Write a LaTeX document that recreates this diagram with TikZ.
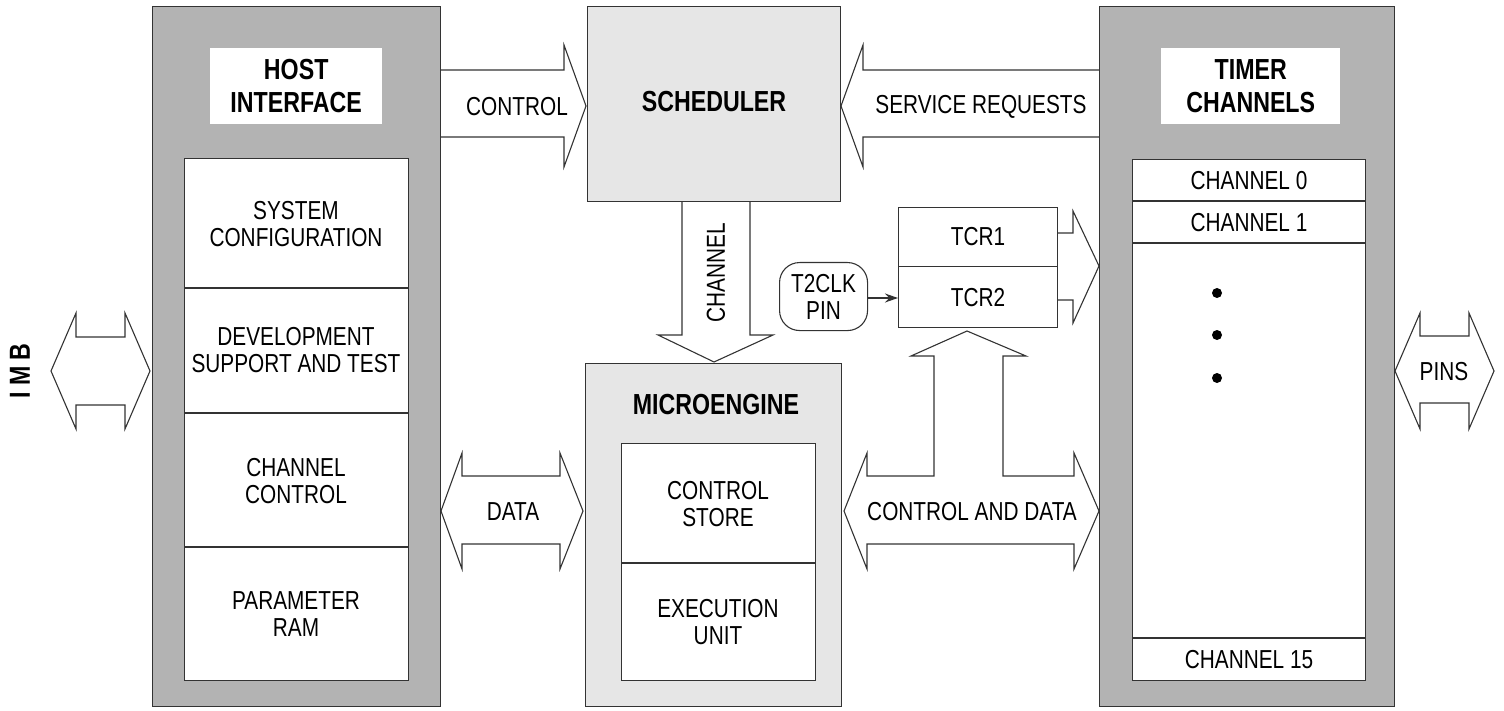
\documentclass[tikz,border=0pt]{standalone}
\usepackage{fontspec}
\setmainfont{Liberation Sans}[FakeStretch=0.8]
\newfontfamily\hdrfont{Liberation Sans Bold}[FakeStretch=0.8]
\usetikzlibrary{arrows.meta,calc}
\definecolor{panelgray}{HTML}{B3B3B3}
\definecolor{lightpanel}{HTML}{E6E6E6}
\definecolor{linegray}{HTML}{333333}
\tikzset{
  box/.style={draw=linegray,line width=1.1pt},
  lbl/.style={font=\fontsize{26}{27}\selectfont,align=center,text=black,inner sep=0pt},
  hdr/.style={font=\hdrfont\fontsize{29}{33}\selectfont,align=center,text=black,inner sep=0pt},
  barrow/.style={draw=linegray,line width=1.1pt,fill=white,line join=miter},
}
\begin{document}
\begin{tikzpicture}[x=1pt,y=-1pt]
\useasboundingbox (0,0) rectangle (1504,711);
% ---------- BLOCK ARROWS (drawn first, boxes on top) ----------
% CONTROL
\draw[barrow] (440,70) -- (564,70) -- (564,45) -- (586,106) -- (564,167) -- (564,137) -- (440,137);
% SERVICE REQUESTS
\draw[barrow] (1099,70) -- (863,70) -- (863,45) -- (841,106) -- (863,167) -- (863,137) -- (1099,137);
% CHANNEL
\draw[barrow] (682,201) -- (682,335) -- (658,335) -- (714,362) -- (773,335) -- (750,335) -- (750,201);
% TCR -> timer
\draw[barrow] (1057,233) -- (1073,233) -- (1073,211) -- (1099,266) -- (1073,323) -- (1073,300) -- (1057,300);
% ---------- HOST INTERFACE ----------
\node[box,fill=panelgray,minimum width=288pt,minimum height=700pt,anchor=north west,inner sep=0pt] (host) at (152,6) {};
\node[fill=white,minimum width=172pt,minimum height=76pt,anchor=north west,inner sep=0pt] (hosthead) at (210,48) {};
\node[hdr] at (hosthead.center) {HOST\\INTERFACE};
\node[box,fill=white,minimum width=224pt,minimum height=522pt,anchor=north west,inner sep=0pt] (hostin) at (184,158) {};
\draw[box] (184,288) -- (408,288);
\draw[box] (184,413) -- (408,413);
\draw[box] (184,547) -- (408,547);
\node[lbl] (sysconf) at (296,224) {SYSTEM\\CONFIGURATION};
\node[lbl] (devsup) at (296,350) {DEVELOPMENT\\SUPPORT AND TEST};
\node[lbl] (chctl) at (296,481) {CHANNEL\\CONTROL};
\node[lbl] (pram) at (296,614) {PARAMETER\\RAM};
% ---------- SCHEDULER ----------
\node[box,fill=lightpanel,minimum width=253pt,minimum height=195pt,anchor=north west,inner sep=0pt] (sched) at (587,6) {};
\node[hdr] at (714,102) {SCHEDULER};
% ---------- MICROENGINE ----------
\node[box,fill=lightpanel,minimum width=256pt,minimum height=343pt,anchor=north west,inner sep=0pt] (micro) at (585,363) {};
\node[hdr] at (716,405) {MICROENGINE};
\node[box,fill=white,minimum width=194pt,minimum height=237pt,anchor=north west,inner sep=0pt] (microin) at (621,443) {};
\draw[box] (621,563) -- (815,563);
\node[lbl] (cstore) at (718,504) {CONTROL\\STORE};
\node[lbl] (exec) at (718,622) {EXECUTION\\UNIT};
% ---------- TIMER CHANNELS ----------
\node[box,fill=panelgray,minimum width=295pt,minimum height=700pt,anchor=north west,inner sep=0pt] (timer) at (1099,6) {};
\node[fill=white,minimum width=179pt,minimum height=76pt,anchor=north west,inner sep=0pt] (timerhead) at (1161,48) {};
\node[hdr] at (timerhead.center) {TIMER\\CHANNELS};
\node[box,fill=white,minimum width=233pt,minimum height=521pt,anchor=north west,inner sep=0pt] (timerin) at (1132,159) {};
\draw[box] (1132,201) -- (1365,201);
\draw[box] (1132,243) -- (1365,243);
\draw[box] (1132,638) -- (1365,638);
\node[lbl] (ch0) at (1249,181) {CHANNEL 0};
\node[lbl] (ch1) at (1249,223) {CHANNEL 1};
\node[lbl] (ch15) at (1249,660) {CHANNEL 15};
\fill[black] (1217,293) circle (5pt);
\fill[black] (1217,335) circle (5pt);
\fill[black] (1217,378) circle (5pt);
% ---------- TCR ----------
\node[box,fill=white,minimum width=159pt,minimum height=59pt,anchor=north west,inner sep=0pt] (tcr1) at (898,207) {};
\node[box,fill=white,minimum width=159pt,minimum height=61pt,anchor=north west,inner sep=0pt] (tcr2) at (898,266) {};
\node[lbl] at (tcr1.center) {TCR1};
\node[lbl] at (tcr2.center) {TCR2};
\node[box,fill=white,rounded corners=20pt,minimum width=88pt,minimum height=68pt,anchor=north west,inner sep=0pt] (t2clk) at (779,262) {};
\node[lbl] at (t2clk.center) {T2CLK\\PIN};
\draw[linegray,line width=1.1pt,-{Stealth[length=13pt,width=9pt]}] (t2clk.east |- 0,298) -- (tcr2.west |- 0,298);
% ---------- LABELS OF ARROWS ----------
\node[lbl] (ctl) at (517,107) {CONTROL};
\node[lbl] (sreq) at (981,107) {SERVICE REQUESTS};
\node[lbl,rotate=90] (chlbl) at (716,273) {CHANNEL};
% CONTROL AND DATA
\draw[barrow] (844,511) -- (867,453) -- (867,476) -- (934,476) -- (934,356) -- (911,356) -- (967,331) -- (1026,356) -- (1003,356) -- (1003,476) -- (1074,476) -- (1074,453) -- (1099,511) -- (1074,569) -- (1074,544) -- (867,544) -- (867,569) -- cycle;
\node[lbl] (cad) at (972,512) {CONTROL AND DATA};
% DATA
\draw[barrow] (441,511) -- (462,453) -- (462,476) -- (560,476) -- (560,453) -- (583,511) -- (560,569) -- (560,544) -- (462,544) -- (462,569) -- cycle;
\node[lbl] (data) at (513,512) {DATA};
% IMB
\draw[barrow] (51,371) -- (76,313) -- (76,337) -- (125,337) -- (125,313) -- (150,371) -- (125,429) -- (125,405) -- (76,405) -- (76,429) -- cycle;
\node[hdr,rotate=90] (imb) at (20,371) {I M B};
% PINS
\draw[barrow] (1395,371) -- (1420,313) -- (1420,336) -- (1469,336) -- (1469,313) -- (1494,371) -- (1469,429) -- (1469,403) -- (1420,403) -- (1420,429) -- cycle;
\node[lbl] (pins) at (1444,372) {PINS};
\end{tikzpicture}
\end{document}
